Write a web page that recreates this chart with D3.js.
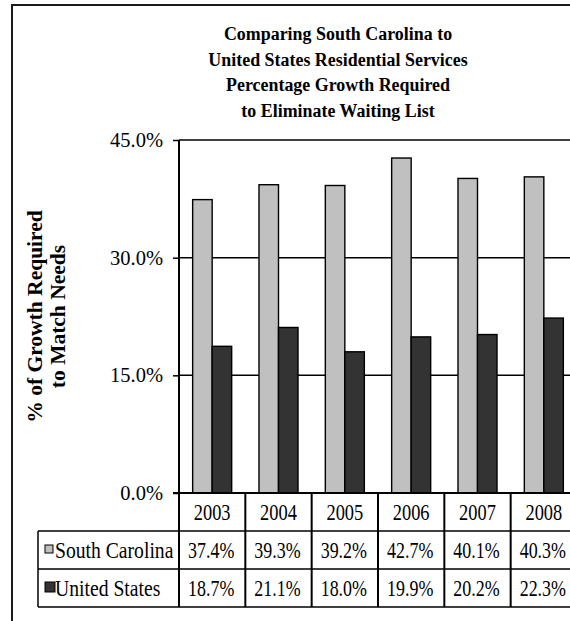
<!DOCTYPE html>
<html>
<head>
<meta charset="utf-8">
<script src="https://cdn.jsdelivr.net/npm/d3@7"></script>
<style>
  html, body { margin: 0; padding: 0; background: #fff; }
  svg { display: block; }
</style>
</head>
<body>
<script>
// ---- data ----
const years = ["2003", "2004", "2005", "2006", "2007", "2008"];
const seriesNames = ["South Carolina", "United States"];
const scValues = [37.4, 39.3, 39.2, 42.7, 40.1, 40.3];
const usValues = [18.7, 21.1, 18.0, 19.9, 20.2, 22.3];
const yTicks = [0, 15, 30, 45];
const titleLines = ["Comparing South Carolina to", "United States Residential Services",
                    "Percentage Growth Required", "to Eliminate Waiting List"];
const yTitleLines = ["% of Growth Required", "to Match Needs"];
const seriesColors = ["#c0c0c0", "#333333"];

// ---- layout ----
const W = 570, H = 621;
const plotLeft = 179, plotTop = 140, plotBottom = 493, plotRight = 577;
const rowH = 38, legendLeft = 38;
const serif = "'Liberation Serif', 'Times New Roman', serif";

const svg = d3.select("body").append("svg").attr("width", W).attr("height", H);
svg.append("rect").attr("width", W).attr("height", H).attr("fill", "#fff");

// outer chart border
svg.append("rect").attr("x", 12).attr("y", 5).attr("width", W + 20).attr("height", H + 20)
  .attr("fill", "none").attr("stroke", "#1a1a1a").attr("stroke-width", 2);

const x = d3.scaleBand().domain(years).range([plotLeft, plotRight]).paddingInner(0).paddingOuter(0);
const xs = d3.scaleBand().domain(seriesNames).range([0, x.bandwidth()]).paddingInner(0).paddingOuter(0.7);
const y = d3.scaleLinear().domain([0, 45]).range([plotBottom, plotTop]);

// place a horizontally condensed text: group translated to (px,py), text scaled by k in x
function condensed(parent, px, py, str, k, attrs) {
  const g = parent.append("g").attr("transform", `translate(${px},${py}) scale(${k},1)`);
  const t = g.append("text").attr("x", 0).attr("y", 0).text(str);
  Object.entries(attrs).forEach(([a, v]) => t.attr(a, v));
  return t;
}

// title
const title = svg.append("g");
titleLines.forEach((line, i) => {
  condensed(title, 338, 40 + i * 25.5, line, 0.92, {
    "text-anchor": "middle", "font-family": serif, "font-weight": "bold",
    "font-size": 19.5, "fill": "#000"
  });
});

// gridlines
svg.append("g").selectAll("line").data(yTicks.filter(t => t > 0)).join("line")
  .attr("x1", plotLeft).attr("x2", W)
  .attr("y1", d => y(d)).attr("y2", d => y(d))
  .attr("stroke", "#000").attr("stroke-width", 1.5);

// bars
const data = years.map((yr, i) => ({ year: yr, vals: [scValues[i], usValues[i]] }));
const groups = svg.append("g").selectAll("g").data(data).join("g")
  .attr("transform", d => `translate(${x(d.year)},0)`);
groups.selectAll("rect").data(d => d.vals.map((v, j) => ({ name: seriesNames[j], v, j }))).join("rect")
  .attr("x", d => xs(d.name)).attr("width", xs.bandwidth())
  .attr("y", d => y(d.v)).attr("height", d => y(0) - y(d.v))
  .attr("fill", d => seriesColors[d.j]).attr("stroke", "#000").attr("stroke-width", 1.4);

// y axis
const yAxis = d3.axisLeft(y).tickValues(yTicks).tickSize(6).tickPadding(10)
  .tickFormat(d => d3.format(".1f")(d) + "%");
const ya = svg.append("g").attr("transform", `translate(${plotLeft},0)`).call(yAxis);
ya.select(".domain").attr("stroke", "#000").attr("stroke-width", 2).attr("d", `M0,${plotTop}V${plotBottom}`);
ya.selectAll(".tick line").attr("stroke", "#000").attr("stroke-width", 1.5);
ya.selectAll(".tick text").attr("font-family", serif).attr("font-size", 20.5).attr("fill", "#000");

// y title
const yt = svg.append("text").attr("transform", `translate(0,${(plotTop + plotBottom) / 2}) rotate(-90)`)
  .attr("text-anchor", "middle").attr("font-family", serif).attr("font-weight", "bold")
  .attr("font-size", 21.5).attr("fill", "#000");
yt.selectAll("tspan").data(yTitleLines).join("tspan")
  .attr("x", 0).attr("y", (d, i) => 42 + i * 23).text(d => d);

// data table
const table = svg.append("g");
const rowsTop = plotBottom;
const tFont = 23;
const cellAttrs = { "text-anchor": "middle", "dy": "0.35em", "font-family": serif,
                    "font-size": tFont, "fill": "#000" };
// header row (years)
years.forEach(yr => {
  condensed(table, x(yr) + x.bandwidth() / 2, rowsTop + rowH / 2, yr, 0.8, cellAttrs);
});
// value rows
const rows = [scValues, usValues];
rows.forEach((vals, r) => {
  const ry = rowsTop + rowH * (r + 1);
  vals.forEach((v, i) => {
    condensed(table, x(years[i]) + x.bandwidth() / 2 - 1, ry + rowH / 2,
              d3.format(".1f")(v) + "%", 0.78, cellAttrs);
  });
  // legend key
  const ks = r === 0 ? 8 : 10;
  table.append("rect").attr("x", 45).attr("y", ry + rowH / 2 - ks / 2 - 1).attr("width", ks).attr("height", ks)
    .attr("fill", seriesColors[r]).attr("stroke", "#000").attr("stroke-width", 1);
  condensed(table, 55, ry + rowH / 2, seriesNames[r], 0.855,
            { "dy": "0.35em", "font-family": serif, "font-size": tFont, "fill": "#000" });
});
// table lines
const tableBottom = rowsTop + rowH * 3;
const hLines = [rowsTop + rowH, rowsTop + rowH * 2, tableBottom];
table.selectAll("line.h").data(hLines).join("line").attr("class", "h")
  .attr("x1", legendLeft).attr("x2", W).attr("y1", d => d).attr("y2", d => d)
  .attr("stroke", "#000").attr("stroke-width", 1.5);
table.selectAll("line.v").data(years).join("line").attr("class", "v")
  .attr("x1", d => x(d)).attr("x2", d => x(d)).attr("y1", rowsTop).attr("y2", tableBottom)
  .attr("stroke", "#000").attr("stroke-width", 2);
table.append("line").attr("x1", legendLeft).attr("x2", legendLeft)
  .attr("y1", rowsTop + rowH).attr("y2", tableBottom).attr("stroke", "#000").attr("stroke-width", 1.5);

// baseline (0%) across plot
svg.append("line").attr("x1", plotLeft - 6).attr("x2", W).attr("y1", y(0)).attr("y2", y(0))
  .attr("stroke", "#000").attr("stroke-width", 2);
</script>
</body>
</html>
